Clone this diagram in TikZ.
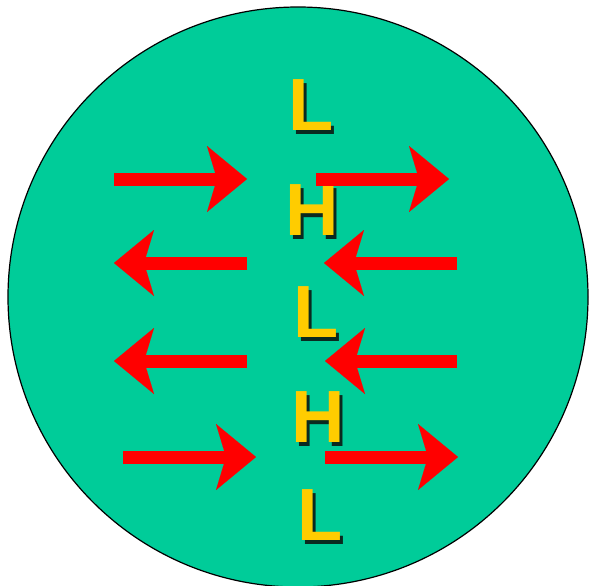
\documentclass[tikz,border=0pt]{standalone}
\usepackage{fontspec}
\setmainfont{Liberation Sans}
\usetikzlibrary{arrows.meta}
\definecolor{discgreen}{HTML}{00CC99}
\definecolor{letteryellow}{HTML}{FFCC00}
\definecolor{arrowred}{HTML}{FF0000}
\definecolor{shadowdark}{HTML}{0A2A20}
\newcommand{\shadowed}[1]{\rlap{\hspace{3.5pt}\raisebox{-3.5pt}{\color{shadowdark}#1}}#1}
\tikzset{
  redarrow/.style={draw=arrowred, line width=13pt, line cap=butt,
    -{Stealth[length=40pt, width=66pt, inset=10pt, line width=0.01pt, fill=arrowred]}},
  letter/.style={inner sep=0pt, text=letteryellow, font=\fontsize{74}{74}\selectfont\bfseries}
}
\begin{document}
\begin{tikzpicture}[x=1pt, y=-1pt]
  \useasboundingbox (0,0) rectangle (589,586);
  \fill[white] (0,0) rectangle (589,586);
  \node[circle, draw=black, line width=1.2pt, fill=discgreen, minimum size=580pt, inner sep=0pt] (disc) at (298,297) {};

  % letters with drop shadows
  \node[letter] (l1) at (311,107) {\shadowed{L}};
  \node[letter] (h1) at (312,212) {\shadowed{H}};
  \node[letter] (l2) at (316,314) {\shadowed{L}};
  \node[letter] (h2) at (318,419) {\shadowed{H}};
  \node[letter] (l3) at (320,517) {\shadowed{L}};

  % arrows
  \draw[redarrow] (114,179) -- (247,179);
  \draw[redarrow] (316,179) -- (449,179);
  \draw[redarrow] (247,263) -- (114,263);
  \draw[redarrow] (457,263) -- (324,263);
  \draw[redarrow] (247,361) -- (114,361);
  \draw[redarrow] (457,361) -- (325,361);
  \draw[redarrow] (123,457) -- (256,457);
  \draw[redarrow] (325,457) -- (458,457);
\end{tikzpicture}
\end{document}
